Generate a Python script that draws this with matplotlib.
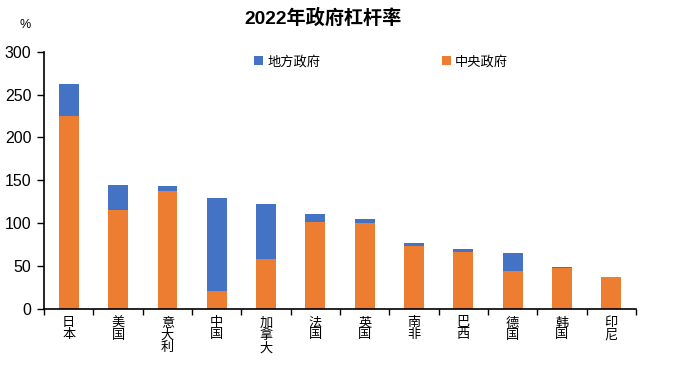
import matplotlib
matplotlib.use("Agg")
import matplotlib.pyplot as plt
import numpy as np

plt.rcParams['font.family'] = ['Liberation Sans', 'Noto Sans CJK SC', 'DejaVu Sans']

countries = ["日本", "美国", "意大利", "中国", "加拿大", "法国", "英国", "南非", "巴西", "德国", "韩国", "印尼"]
central = [224.7, 115.2, 137.4, 21.0, 58.2, 101.3, 100.1, 73.3, 66.4, 44.2, 47.7, 37.3]
local = [37.3, 29.2, 5.8, 108.2, 64.0, 9.3, 4.7, 3.5, 3.4, 21.0, 1.2, 0.0]
yticks = [0, 50, 100, 150, 200, 250, 300]

fig = plt.figure(figsize=(6.78, 3.76), dpi=100)
ax = fig.add_axes([0.065, 0.178, 0.873, 0.6845])

x = np.arange(len(countries))
b2 = ax.bar(x, central, width=0.4, color="#ED7D31", label="中央政府", zorder=2)
b1 = ax.bar(x, local, width=0.4, bottom=central, color="#4472C4", label="地方政府", zorder=2)

ax.set_xlim(-0.5, len(countries) - 0.5)
ax.set_ylim(0, 300)
ax.set_yticks(yticks)
ax.tick_params(axis='y', labelsize=11.5, length=5, width=1, direction='out', pad=4)

ax.set_xticks(x)
ax.set_xticklabels(["\n".join(c) for c in countries], fontsize=9.5, linespacing=1.0)
ax.set_xticks(np.arange(-0.5, len(countries)), minor=True)
ax.tick_params(axis='x', which='major', length=0, pad=6)
ax.tick_params(axis='x', which='minor', length=4, width=1, direction='out')

for s in ['top', 'right']:
    ax.spines[s].set_visible(False)
for s in ['left', 'bottom']:
    ax.spines[s].set_linewidth(1.2)

fig.text(0.476, 0.952, "2022年政府杠杆率", ha='center', va='center', fontsize=13.8, fontweight='bold')
fig.text(0.037, 0.933, "%", ha='center', va='center', fontsize=9)

fig.legend([b1, b2], ["地方政府", "中央政府"], loc='center', bbox_to_anchor=(0.562, 0.835), ncol=2,
           frameon=False, fontsize=9.5, handlelength=0.7, handleheight=0.7, handletextpad=0.3,
           columnspacing=9.2)

fig.savefig("out.png", dpi=100)
